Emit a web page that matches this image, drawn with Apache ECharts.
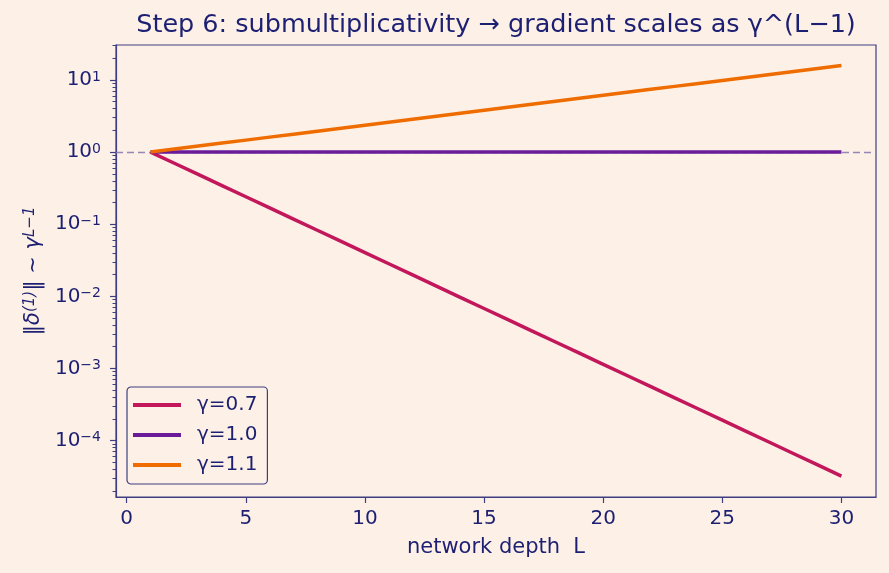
<!DOCTYPE html>
<html><head><meta charset="utf-8">
<script src="https://cdn.jsdelivr.net/npm/echarts@6/dist/echarts.min.js"></script>
<style>html,body{margin:0;padding:0;background:#fdf1e7;}#c{width:889px;height:573px;}</style>
</head><body><div id="c"></div>
<script>
const depth = [1,2,3,4,5,6,7,8,9,10,11,12,13,14,15,16,17,18,19,20,21,22,23,24,25,26,27,28,29,30];
const gamma07 = [1,0.7,0.49,0.343,0.2401,0.16807,0.117649,0.0823543,0.057648,0.0403536,0.0282475,0.0197733,0.0138413,0.0096889,0.00678223,0.00474756,0.00332329,0.00232631,0.00162841,0.00113989,0.000797923,0.000558546,0.000390982,0.000273687,0.000191581,0.000134107,0.0000938748,0.0000657124,0.0000459987,0.0000321991];
const gamma10 = [1,1,1,1,1,1,1,1,1,1,1,1,1,1,1,1,1,1,1,1,1,1,1,1,1,1,1,1,1,1];
const gamma11 = [1,1.1,1.21,1.331,1.4641,1.61051,1.771561,1.948717,2.143589,2.357948,2.593742,2.853117,3.138428,3.452271,3.797498,4.177248,4.594973,5.05447,5.559917,6.115909,6.7275,7.40025,8.140275,8.954302,9.849733,10.834706,11.918177,13.109994,14.420994,15.863093];
const seriesNames = ['γ=0.7','γ=1.0','γ=1.1'];
const xTicks = [0,5,10,15,20,25,30];
const yTicks = [1e-4,1e-3,1e-2,1e-1,1,10];
const yTickExp = ['−4','−3','−2','−1','0','1'];
const yMinor = [2e-5,3e-5,4e-5,5e-5,6e-5,7e-5,8e-5,9e-5,2e-4,3e-4,4e-4,5e-4,6e-4,7e-4,8e-4,9e-4,2e-3,3e-3,4e-3,5e-3,6e-3,7e-3,8e-3,9e-3,2e-2,3e-2,4e-2,5e-2,6e-2,7e-2,8e-2,9e-2,0.2,0.3,0.4,0.5,0.6,0.7,0.8,0.9,2,3,4,5,6,7,8,9,20,30];

const TXT = '#1c1f72';
const SPINE = '#3e3e82';
const FONT = 'DejaVu Sans';
const pairs = arr => depth.map((d,i)=>[d, arr[i]]);

const chart = echarts.init(document.getElementById('c'), null, {renderer:'canvas'});
const yLabelFmt = v => {
  let idx = yTicks.findIndex(t => Math.abs(Math.log10(t) - Math.log10(v)) < 1e-6);
  if (idx < 0) return '';
  return '{b|10}{s|' + yTickExp[idx] + '}';
};
chart.setOption({
  backgroundColor: '#fdf1e7',
  animation: false,
  title: {
    text: 'Step 6: submultiplicativity → gradient scales as γ^(L−1)',
    left: 491, top: 7, textAlign: 'center',
    textStyle: {fontFamily: FONT, fontSize: 25.5, fontWeight: 'normal', color: TXT}
  },
  grid: {left: 116, right: 13, top: 45, bottom: 76, containLabel: false,
         show: true, borderColor: SPINE, borderWidth: 1.2},
  legend: {
    orient: 'vertical', left: 127, top: 387,
    data: seriesNames,
    icon: 'rect', itemWidth: 48, itemHeight: 3.8, itemGap: 10,
    padding: [8, 10, 9, 6],
    borderColor: SPINE, borderWidth: 1.2, borderRadius: 4,
    backgroundColor: '#fdf1e7',
    textStyle: {fontFamily: FONT, fontSize: 20, color: TXT, padding: [0,0,0,11]}
  },
  xAxis: {
    type: 'value', min: -0.45, max: 31.45,
    name: 'network depth  L', nameLocation: 'middle', nameGap: 40,
    nameTextStyle: {fontFamily: FONT, fontSize: 21, color: TXT},
    axisLine: {show: true, onZero: false, lineStyle: {color: SPINE, width: 1.2}},
    axisTick: {show: true, length: 6, lineStyle: {color: SPINE, width: 1.2}, customValues: xTicks},
    axisLabel: {customValues: xTicks, fontFamily: FONT, fontSize: 20, color: TXT, margin: 12},
    splitLine: {show: false}
  },
  yAxis: [{
    type: 'log', logBase: 10, min: 1.65e-5, max: 30.5,
    name: '{n|‖}{i|δ}{sp|(1)}{n|‖ ~ }{i|γ}{sp|L−1}',
    nameLocation: 'middle', nameGap: 72, nameRotate: 90,
    nameTextStyle: {fontFamily: FONT, fontSize: 21, color: TXT,
      rich: {
        n: {fontFamily: FONT, fontSize: 21, color: TXT},
        i: {fontFamily: FONT, fontSize: 21, fontStyle: 'italic', color: TXT},
        sp: {fontFamily: FONT, fontSize: 15, fontStyle: 'italic', color: TXT, verticalAlign: 'top'}
      }},
    axisLine: {show: true, onZero: false, lineStyle: {color: SPINE, width: 1.2}},
    axisTick: {show: true, length: 6, lineStyle: {color: SPINE, width: 1.2}, customValues: yTicks},
    axisLabel: {customValues: yTicks, formatter: yLabelFmt, margin: 15,
      rich: {
        b: {fontFamily: FONT, fontSize: 20, color: TXT, verticalAlign: 'bottom'},
        s: {fontFamily: FONT, fontSize: 14, color: TXT, verticalAlign: 'top'}
      }},
    splitLine: {show: false}
  }, {
    type: 'log', logBase: 10, min: 1.65e-5, max: 30.5, position: 'left',
    axisLine: {show: false, onZero: false},
    axisTick: {show: true, length: 3.5, lineStyle: {color: SPINE, width: 1}, customValues: yMinor},
    axisLabel: {show: false},
    splitLine: {show: false}
  }],
  series: [
    {name: seriesNames[0], type: 'line', data: pairs(gamma07), showSymbol: false,
     lineStyle: {color: '#c2185b', width: 3.5}, itemStyle: {color: '#c2185b'}, z: 3},
    {name: seriesNames[1], type: 'line', data: pairs(gamma10), showSymbol: false,
     lineStyle: {color: '#6a1b9a', width: 3.5}, itemStyle: {color: '#6a1b9a'}, z: 3,
     markLine: {silent: true, symbol: 'none', label: {show: false},
       lineStyle: {color: '#8c7bb0', type: [7, 4], width: 1.3, opacity: 0.9},
       data: [{yAxis: 1}], z: 1}},
    {name: seriesNames[2], type: 'line', data: pairs(gamma11), showSymbol: false,
     lineStyle: {color: '#ef6c00', width: 3.5}, itemStyle: {color: '#ef6c00'}, z: 4}
  ]
});
</script></body></html>
